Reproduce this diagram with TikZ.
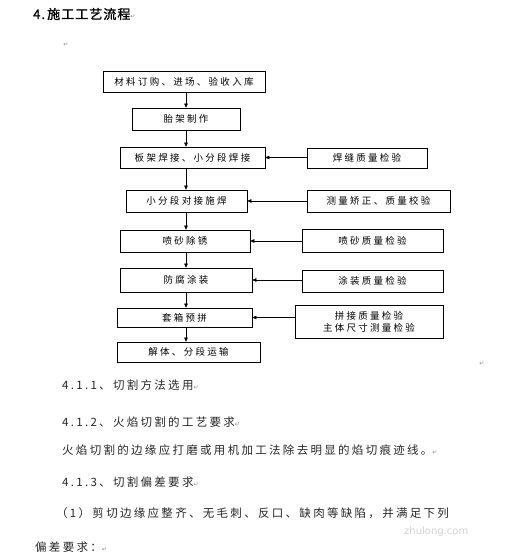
\documentclass[tikz,border=0pt]{standalone}
\usepackage{fontspec}
\usepackage{tikz}
\usetikzlibrary{arrows.meta,positioning}
\newfontfamily\boxfont[LetterSpace=24]{Noto Sans CJK SC}
\newfontfamily\bodyfont[LetterSpace=20]{Noto Sans CJK SC}
\newfontfamily\titlefont[LetterSpace=8,FakeBold=1.5]{Noto Sans CJK SC}
\newfontfamily\symbfont{DejaVu Sans}
\newcommand{\pmark}{{\symbfont\color{black!45}\fontsize{6}{6}\selectfont ↵}}

\begin{document}
\begin{tikzpicture}[
  x=1pt, y=-1pt,
  font=\boxfont\fontsize{9.5}{12}\selectfont,
  box/.style={draw, line width=0.7pt, align=center, inner sep=0pt, minimum height=21pt},
  txt/.style={font=\bodyfont\fontsize{11.5}{13}\selectfont, text=black!85, anchor=west, inner sep=0pt},
  arr/.style={-{Triangle[length=4pt, width=3.6pt]}, line width=0.6pt}]
\useasboundingbox (0,0) rectangle (504,560);
% --- heading ---
\node[anchor=west, inner sep=0pt] (head) at (33,14) {\titlefont\fontsize{13}{15}\selectfont 4.\,施工工艺流程\pmark};
\node[inner sep=0pt] (gap) at (66,45) {\pmark};
% --- main line ---
\node[box, minimum width=162pt] (m1) at (184,82) {材料订购、进场、验收入库};
\node[box, minimum width=108pt, minimum height=22pt] (m2) at (186,119) {胎架制作};
\node[box, minimum width=145pt] (m3) at (192.5,157.5) {板架焊接、小分段焊接};
\node[box, minimum width=121pt, minimum height=22pt] (m4) at (186.5,201) {小分段对接施焊};
\node[box, minimum width=130pt, minimum height=22pt] (m5) at (185,241) {喷砂除锈};
\node[box, minimum width=132pt, minimum height=24pt] (m6) at (186,280) {防腐涂装};
\node[box, minimum width=135pt, minimum height=19pt] (m7) at (184.5,317.5) {套箱预拼};
\node[box, minimum width=143pt, minimum height=20pt] (m8) at (188.5,352) {解体、分段运输};
\coordinate (spine) at (186,0);
\foreach \a/\b in {m1/m2,m2/m3,m3/m4,m4/m5,m5/m6,m6/m7,m7/m8}
  \draw[arr] (\a.south -| spine) -- (\b.north -| spine);
% --- checks ---
\node[box, minimum width=120pt, minimum height=20pt] (r1) at (367,158) {焊缝质量检验};
\node[box, minimum width=143pt, minimum height=22pt] (r2) at (378.5,201) {测量矫正、质量校验};
\node[box, minimum width=141pt, minimum height=23pt] (r3) at (372.5,240.5) {喷砂质量检验};
\node[box, minimum width=141pt, minimum height=22pt] (r4) at (372.5,281) {涂装质量检验};
\node[box, minimum width=148pt, minimum height=33pt] (r5) at (369,321.5) {拼接质量检验\\主体尺寸测量检验};
\foreach \r/\m in {r1/m3,r2/m4,r3/m5,r4/m6,r5/m7}
  \draw[arr] (\m.east -| \r.west) -- (\m.east);
\node[inner sep=0pt] (brk) at (482,364) {\pmark};
% --- text below ---
\node[txt] (s1) at (62,385) {4.1.1、切割方法选用\pmark};
\node[txt] (s2) at (62,422) {4.1.2、火焰切割的工艺要求\pmark};
\node[txt] (p1) at (62,450) {火焰切割的边缘应打磨或用机加工法除去明显的焰切痕迹线。\pmark};
\node[txt] (s3) at (62,482) {4.1.3、切割偏差要求\pmark};
\node[txt] (p2) at (56,513) {（1）剪切边缘应整齐、无毛刺、反口、缺肉等缺陷，并满足下列};
\node[txt] (p3) at (35,547) {偏差要求：\pmark};
\node[anchor=west, inner sep=0pt, text=black!18, font=\symbfont\fontsize{10}{10}\selectfont] (wm) at (404,532) {zhulong.com};
\end{tikzpicture}
\end{document}
